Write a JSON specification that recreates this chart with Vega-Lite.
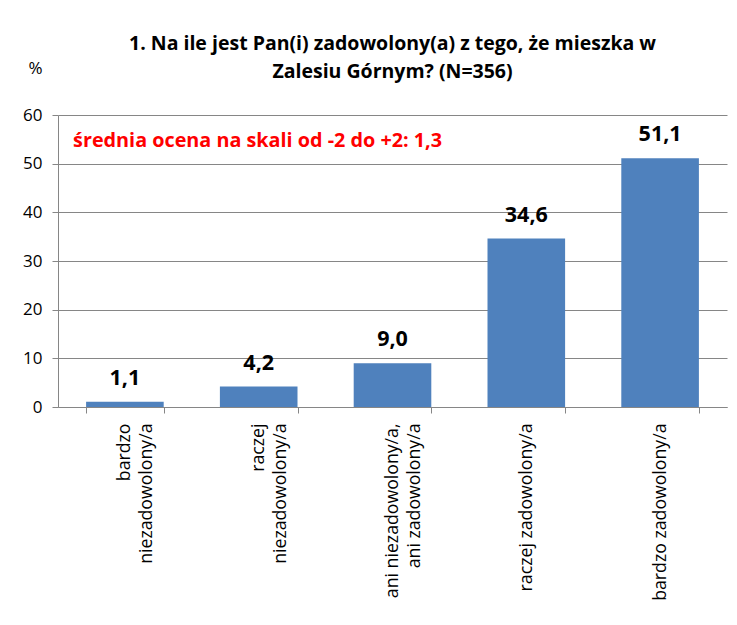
{
  "$schema": "https://vega.github.io/schema/vega-lite/v6.json",
  "autosize": "none",
  "width": 669,
  "height": 292,
  "padding": {"left": 58, "top": 115, "right": 10, "bottom": 218},
  "background": "white",
  "config": {
    "font": "Open Sans",
    "view": {"stroke": null},
    "locale": {"number": {"decimal": ",", "thousands": " ", "grouping": [3], "currency": ["", " zł"]}}
  },
  "title": {
    "text": ["1. Na ile jest Pan(i) zadowolony(a) z tego, że mieszka w", "Zalesiu Górnym? (N=356)"],
    "font": "Open Sans",
    "fontSize": 19.5,
    "fontWeight": "bold",
    "color": "#000000",
    "anchor": "middle",
    "frame": "group",
    "lineHeight": 28,
    "offset": -23
  },
  "data": {
    "values": [
      {"kat": "bardzo|niezadowolony/a", "proc": 1.1},
      {"kat": "raczej|niezadowolony/a", "proc": 4.2},
      {"kat": "ani niezadowolony/a,|ani zadowolony/a", "proc": 9.0},
      {"kat": "raczej zadowolony/a", "proc": 34.6},
      {"kat": "bardzo zadowolony/a", "proc": 51.1}
    ]
  },
  "layer": [
    {
      "mark": {"type": "bar", "color": "#4F81BD"},
      "encoding": {
        "x": {
          "field": "kat",
          "type": "nominal",
          "sort": null,
          "scale": {"paddingInner": 0.42, "paddingOuter": 0.21},
          "axis": {
            "title": null,
            "labelExpr": "split(datum.label, '|')",
            "labelAngle": -90,
            "labelAlign": "right",
            "labelBaseline": "middle",
            "labelFontSize": 17.7,
            "labelColor": "#000000",
            "labelPadding": 10,
            "labelLineHeight": 22,
            "domainColor": "#868686",
            "tickColor": "#868686",
            "tickBand": "extent",
            "tickSize": 6,
            "labelLimit": 300
          }
        },
        "y": {
          "field": "proc",
          "type": "quantitative",
          "scale": {"domain": [0, 60]},
          "axis": {
            "values": [0, 10, 20, 30, 40, 50, 60],
            "title": "%",
            "titleAngle": 0,
            "titleFontSize": 17,
            "titleFontWeight": "normal",
            "titleColor": "#000000",
            "titleX": -23,
            "titleY": -47,
            "titleAlign": "center",
            "titleBaseline": "middle",
            "labelFontSize": 17,
            "labelColor": "#000000",
            "labelPadding": 10,
            "domainColor": "#868686",
            "tickColor": "#868686",
            "tickSize": 6,
            "grid": true,
            "gridColor": "#868686"
          }
        }
      }
    },
    {
      "mark": {"type": "text", "fontSize": 21.5, "fontWeight": "bold", "baseline": "alphabetic", "dy": -17, "color": "#000000"},
      "encoding": {
        "x": {"field": "kat", "type": "nominal", "sort": null},
        "y": {"field": "proc", "type": "quantitative"},
        "text": {"field": "proc", "type": "quantitative", "format": ".1f"}
      }
    },
    {
      "data": {"values": [{"kat": "bardzo|niezadowolony/a", "y": 53.4, "txt": "średnia ocena na skali od -2 do +2: 1,3"}]},
      "mark": {"type": "text", "fontSize": 19.8, "fontWeight": "bold", "color": "#FF0000", "align": "left", "baseline": "alphabetic", "dx": -13},
      "encoding": {
        "x": {"field": "kat", "type": "nominal", "sort": null, "bandPosition": 0},
        "y": {"field": "y", "type": "quantitative"},
        "text": {"field": "txt"}
      }
    }
  ]
}
